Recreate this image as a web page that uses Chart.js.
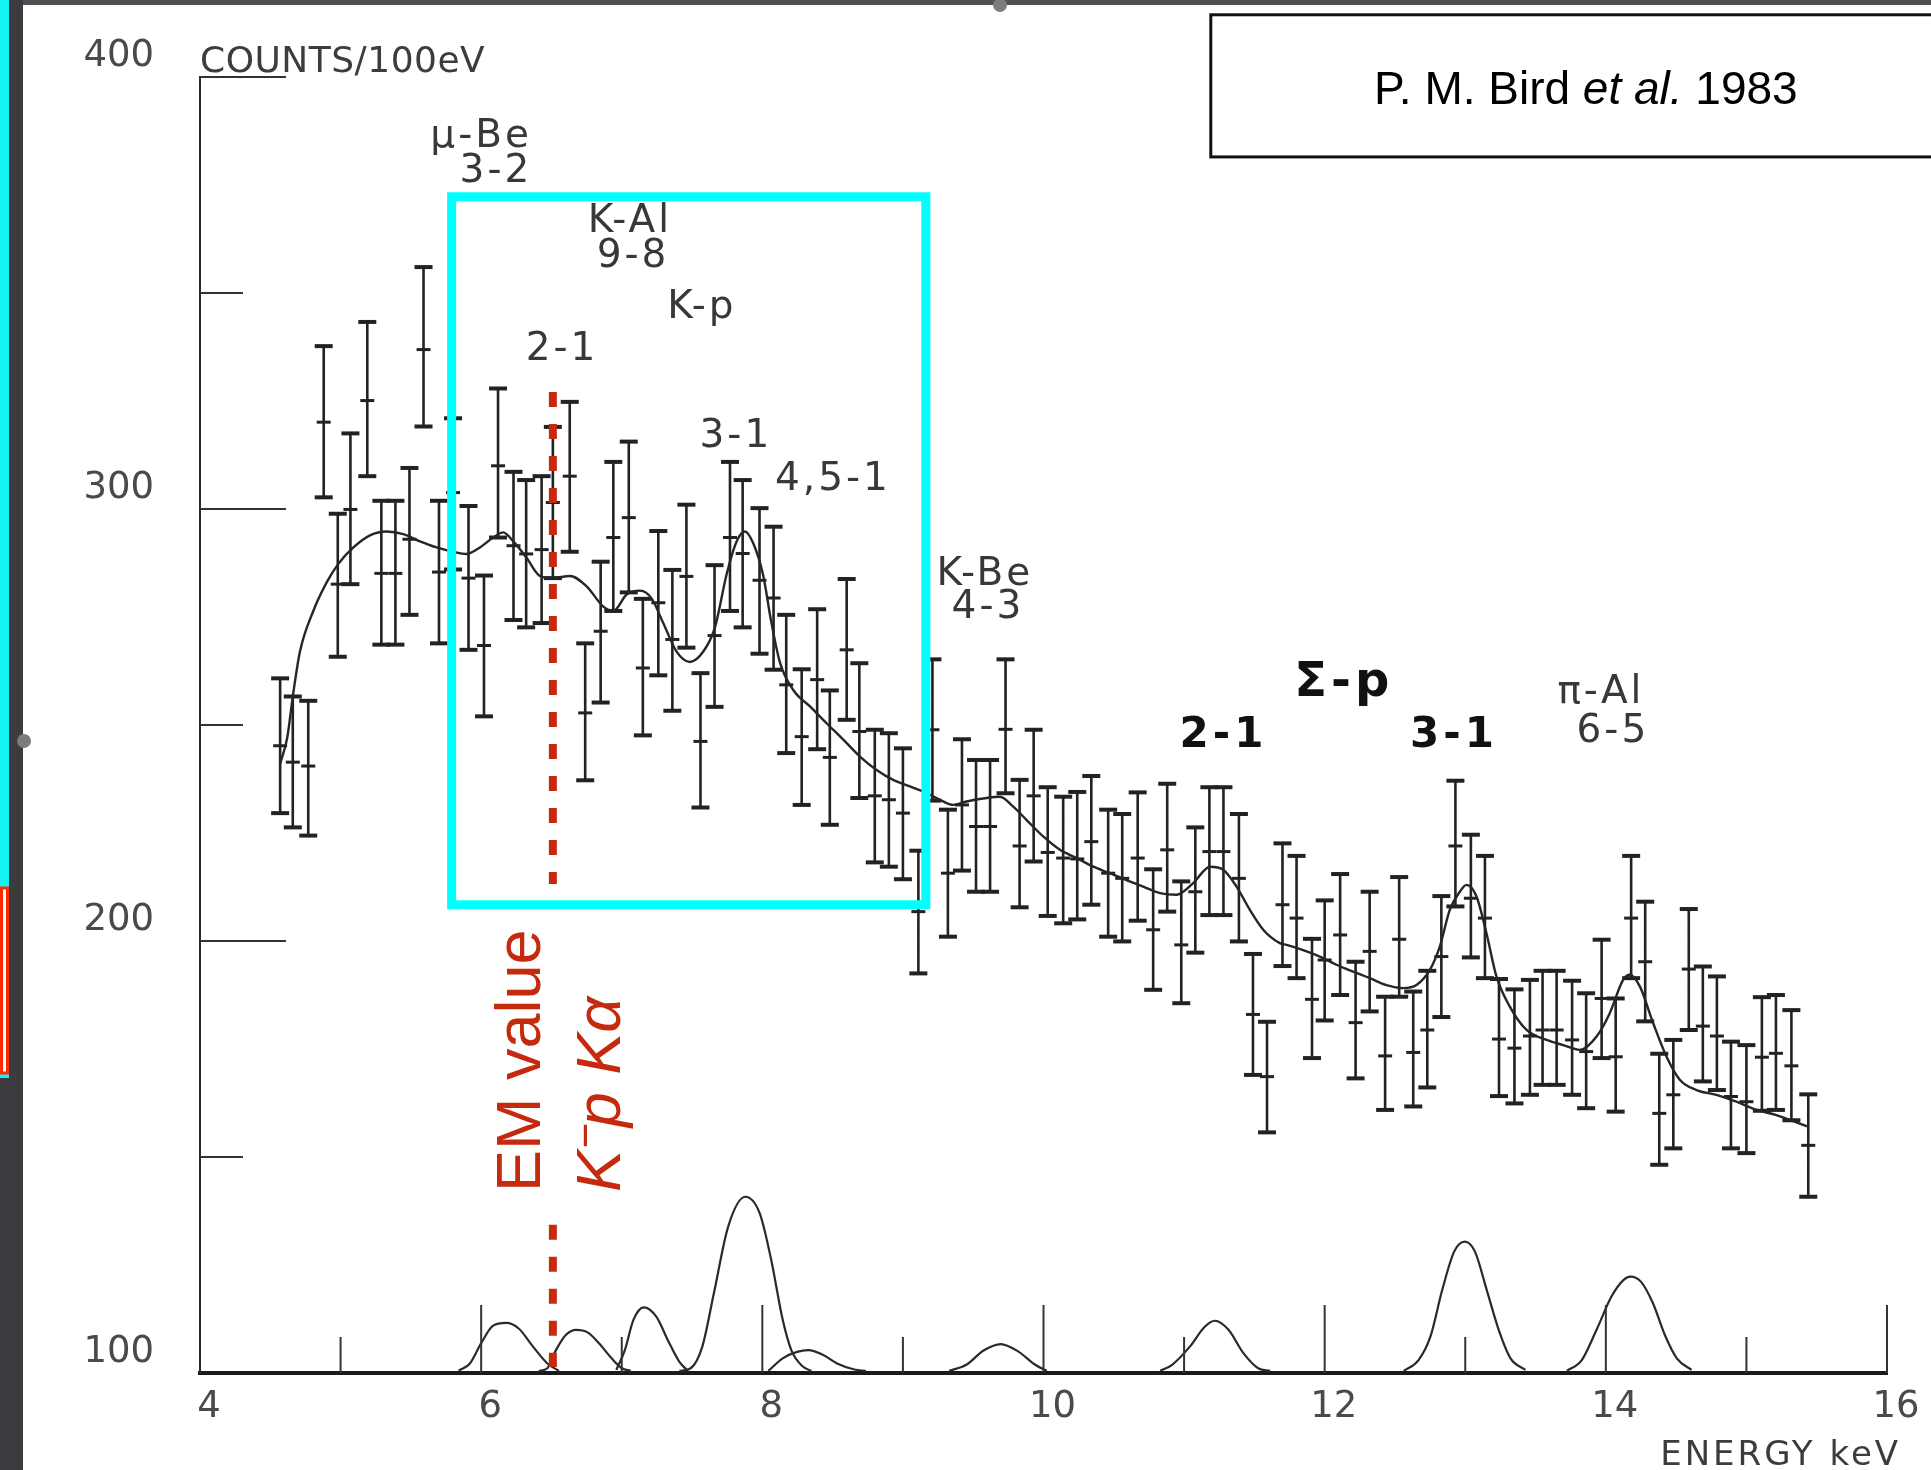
<!DOCTYPE html>
<html>
<head>
<meta charset="utf-8">
<script src="https://cdn.jsdelivr.net/npm/chart.js@4.4.1/dist/chart.umd.min.js"></script>
<style>
html, body { margin: 0; padding: 0; background: #fff; }
#spectrum { display: block; }
</style>
</head>
<body>
<canvas id="spectrum" width="1931" height="1470"></canvas>
<script>
// K-p X-ray spectrum (Bird et al. 1983)
// bin centres (keV), counts per 100 eV and the ends of each error bar
const energy = [4.57, 4.66, 4.77, 4.88, 4.98, 5.07, 5.19, 5.29, 5.39, 5.49,
    5.59, 5.70, 5.80, 5.91, 6.02, 6.12, 6.23, 6.32, 6.43, 6.51,
    6.63, 6.74, 6.85, 6.94, 7.05, 7.15, 7.26, 7.36, 7.46, 7.56,
    7.66, 7.77, 7.86, 7.98, 8.08, 8.17, 8.28, 8.39, 8.48, 8.60,
    8.69, 8.80, 8.90, 9.00, 9.11, 9.21, 9.32, 9.42, 9.52, 9.62,
    9.73, 9.83, 9.93, 10.03, 10.14, 10.24, 10.34, 10.46, 10.56, 10.67,
    10.78, 10.88, 10.98, 11.08, 11.18, 11.28, 11.39, 11.49, 11.59, 11.70,
    11.80, 11.91, 12.00, 12.11, 12.22, 12.32, 12.43, 12.53, 12.63, 12.73,
    12.83, 12.93, 13.04, 13.14, 13.24, 13.35, 13.46, 13.55, 13.65, 13.76,
    13.86, 13.97, 14.07, 14.18, 14.28, 14.38, 14.48, 14.59, 14.69, 14.79,
    14.89, 15.00, 15.11, 15.21, 15.32, 15.44];
const counts = [245.2, 241.4, 240.5, 320.1, 282.6, 299.9, 325.1, 285.1, 285.1, 293.0,
    336.9, 285.4, 303.8, 284.0, 268.4, 310.0, 291.5, 289.6, 290.6, 301.5,
    307.6, 252.8, 271.7, 293.4, 298.0, 263.2, 278.3, 269.8, 284.4, 246.2,
    270.7, 293.4, 289.7, 283.5, 279.4, 259.3, 247.3, 260.5, 242.5, 267.4,
    248.5, 233.6, 232.7, 229.6, 206.8, 248.9, 215.7, 231.5, 226.5, 226.5,
    249.0, 222.0, 233.6, 220.5, 219.2, 219.0, 223.0, 215.7, 214.5, 219.2,
    202.6, 221.1, 199.1, 211.4, 220.7, 220.7, 214.5, 183.0, 168.6, 208.4,
    205.3, 186.5, 195.6, 201.4, 181.1, 197.6, 173.4, 200.4, 174.2, 179.4,
    196.4, 222.0, 209.9, 205.3, 177.3, 175.2, 178.0, 179.4, 179.4, 177.1,
    174.4, 186.7, 173.2, 205.3, 195.2, 160.1, 164.4, 193.5, 180.3, 178.0,
    164.0, 162.8, 173.1, 174.0, 171.1, 152.7];
const errHigh = [260.8, 256.6, 255.6, 337.7, 298.9, 317.5, 343.3, 301.9, 301.9, 309.5,
    356.0, 301.9, 321.0, 300.7, 284.6, 327.9, 308.6, 306.7, 307.6, 319.0,
    324.8, 268.9, 287.8, 310.9, 315.6, 279.2, 294.9, 285.9, 301.0, 262.0,
    287.0, 310.9, 306.7, 300.2, 295.9, 275.5, 262.9, 276.8, 258.0, 283.8,
    264.3, 248.9, 248.1, 244.6, 220.9, 265.2, 230.4, 246.7, 241.9, 241.9,
    265.2, 237.3, 248.9, 235.6, 233.4, 234.5, 238.2, 230.4, 229.4, 234.4,
    216.6, 236.4, 213.8, 226.3, 235.6, 235.6, 229.4, 197.0, 181.3, 222.6,
    219.7, 200.5, 209.4, 215.5, 195.2, 211.4, 187.1, 214.8, 188.3, 193.1,
    210.4, 237.1, 224.6, 219.7, 191.2, 188.8, 191.0, 193.1, 193.1, 190.8,
    187.9, 200.3, 186.7, 219.7, 209.1, 173.9, 177.1, 207.4, 194.1, 191.8,
    176.7, 175.9, 187.0, 187.5, 184.0, 164.5];
const errLow = [229.6, 226.3, 224.4, 302.7, 265.8, 282.6, 307.6, 268.6, 268.6, 275.5,
    319.1, 268.9, 286.0, 267.4, 252.0, 293.4, 274.3, 272.6, 273.6, 284.0,
    290.1, 237.2, 255.2, 276.4, 280.7, 247.6, 261.5, 253.3, 267.9, 230.9,
    254.2, 276.4, 272.6, 266.5, 262.8, 243.5, 231.5, 244.4, 226.9, 251.2,
    233.1, 218.2, 217.2, 214.3, 192.5, 232.5, 201.0, 216.3, 211.4, 211.4,
    234.2, 207.8, 218.4, 205.8, 204.1, 205.0, 208.4, 201.0, 199.9, 204.7,
    188.7, 206.8, 185.6, 197.3, 206.0, 206.0, 199.9, 169.0, 155.7, 194.2,
    191.4, 172.9, 181.6, 187.5, 168.2, 183.7, 160.9, 187.1, 161.7, 166.1,
    182.4, 208.0, 196.2, 191.4, 164.1, 162.4, 164.4, 166.7, 166.7, 164.4,
    161.3, 172.9, 160.5, 191.4, 181.4, 148.2, 152.0, 179.4, 167.5, 165.5,
    152.0, 150.9, 160.7, 160.9, 158.5, 140.8];

// fitted total spectrum
const fitE = [4.57, 4.62, 4.664, 4.711, 4.806, 4.901, 4.984, 5.091, 5.209, 5.328,
    5.446, 5.565, 5.683, 5.802, 5.897, 5.991, 6.086, 6.157, 6.229, 6.323,
    6.418, 6.513, 6.631, 6.750, 6.869, 6.94, 7.035, 7.13, 7.212, 7.295,
    7.39, 7.485, 7.58, 7.663, 7.746, 7.817, 7.876, 7.936, 8.007, 8.06,
    8.125, 8.22, 8.339, 8.457, 8.576, 8.694, 8.813, 8.931, 9.05, 9.145,
    9.263, 9.358, 9.453, 9.595, 9.69, 9.785, 9.88, 9.998, 10.117, 10.235,
    10.354, 10.472, 10.591, 10.709, 10.828, 10.946, 11.065, 11.184, 11.278, 11.373,
    11.468, 11.563, 11.681, 11.729, 11.847, 11.966, 12.084, 12.203, 12.321, 12.44,
    12.558, 12.653, 12.748, 12.819, 12.89, 12.961, 13.009, 13.08, 13.151, 13.222,
    13.317, 13.436, 13.578, 13.697, 13.815, 13.934, 14.028, 14.123, 14.17, 14.242,
    14.337, 14.432, 14.526, 14.645, 14.787, 14.929, 15.072, 15.214, 15.309, 15.43];
const fitC = [241, 247, 257.5, 267.0, 276.4, 283.0, 287.3, 291.1, 293.9, 294.8,
    294.2, 292.5, 291.1, 290.1, 289.6, 291.1, 293.4, 294.6, 292.5, 288.7,
    284.5, 284.0, 284.5, 282.1, 277.4, 276.4, 280.2, 281.1, 279.3, 273.6,
    267.0, 264.6, 267.0, 272.6, 284.9, 292.5, 294.8, 292.0, 284.5, 274.5,
    264.5, 258.1, 254.3, 250.4, 246.6, 242.7, 239.6, 237.3, 235.8, 234.6,
    232.7, 231.5, 232.3, 233.1, 233.4, 231.1, 228.0, 224.2, 221.1, 219.2,
    217.2, 215.7, 214.1, 212.6, 211.1, 210.7, 213.4, 217.2, 216.5, 212.6,
    207.2, 202.6, 199.5, 199.1, 197.9, 196.4, 194.5, 192.9, 191.4, 189.8,
    189.1, 189.8, 193.3, 198.7, 207.2, 211.4, 213.0, 210.3, 201.8, 191.8,
    184.8, 179.4, 177.1, 175.9, 174.8, 177.9, 183.3, 191.0, 192.2, 189.5,
    180.95, 173.2, 167.9, 165.5, 164.4, 162.8, 160.9, 159.7, 158.6, 157.1];

// single line components drawn on the baseline, [keV, counts]
const peak62 = [[5.84, 100.5], [5.92, 102.2], [6.0, 106.9], [6.083, 110.9], [6.177, 111.6],
    [6.267, 110.3], [6.369, 106.1], [6.471, 102.2], [6.553, 100.5]];
const peak67 = [[6.41, 100.5], [6.471, 101.1], [6.532, 105.3], [6.602, 108.8], [6.675, 110.0],
    [6.757, 109.4], [6.838, 106.9], [6.928, 103.4], [7.001, 101.1], [7.063, 100.5]];
const peak72 = [[6.961, 100.7], [7.022, 105.3], [7.083, 112.3], [7.157, 115.2], [7.247, 113.0],
    [7.328, 107.6], [7.41, 102.6], [7.471, 100.5]];
const peak79 = [[7.41, 100.5], [7.491, 101.1], [7.573, 106.1], [7.655, 118.4], [7.757, 133.9],
    [7.879, 140.8], [7.981, 137.0], [8.063, 126.2], [8.145, 112.3], [8.206, 105.3],
    [8.288, 101.5], [8.349, 100.5]];
const peak83 = [[8.043, 100.5], [8.145, 103.4], [8.247, 104.9], [8.329, 105.3], [8.43, 104.2],
    [8.532, 102.2], [8.655, 100.8], [8.737, 100.5]];
const peak97 = [[9.329, 100.5], [9.451, 101.9], [9.574, 105.2], [9.696, 106.7], [9.819, 105.0],
    [9.941, 101.9], [10.023, 100.5]];
const peak112 = [[10.83, 100.5], [10.915, 101.9], [11.041, 106.1], [11.147, 110.7], [11.219, 112.1],
    [11.316, 110.0], [11.422, 104.6], [11.527, 101.1], [11.612, 100.5]];
const peak130 = [[12.562, 100.5], [12.668, 103.0], [12.752, 108.4], [12.836, 119.2], [12.921, 128.1],
    [12.997, 130.4], [13.069, 128.1], [13.153, 119.2], [13.238, 110.0], [13.322, 103.4], [13.428, 100.7]];
const peak142 = [[13.723, 100.5], [13.829, 103.0], [13.934, 110.0], [14.04, 117.7], [14.125, 121.5],
    [14.175, 122.3], [14.251, 121.1], [14.336, 116.1], [14.42, 108.8], [14.505, 103.4], [14.61, 100.7]];

// axis ticks (labels at 100..400 and 4..16)
const xMajorTicks = [6, 8, 10, 12, 14, 16];
const xMinorTicks = [5, 7, 9, 11, 13, 15];
const yMajorTicks = [200, 300, 400];
const yMinorTicks = [150, 250, 350];

// transition labels of the scan, anchored at [keV, counts] (baseline, centre)
const labelText = ['μ-Be', '3-2', 'K-Al', '9-8', 'K-p', '2-1', '3-1', '4,5-1', 'K-Be', '4-3',
    '2-1', 'Σ-p', '3-1', 'π-Al', '6-5'];
const labelE = [6.0, 6.105, 7.058, 7.08, 7.57, 6.575, 7.812, 8.502, 9.583, 9.605,
    11.28, 12.136, 12.92, 13.965, 14.05];
const labelC = [383.9, 375.8, 364.2, 356.1, 344.3, 334.5, 314.4, 304.4, 282.4, 274.8,
    244.9, 256.6, 244.9, 255.1, 246.1];
const labelBold = [0, 0, 0, 0, 0, 0, 0, 0, 0, 0, 1, 1, 1, 0, 0];

// overlays added on the slide
const emLineE = 6.51;                       // EM value of the K-p K alpha line
const emLineSpans = [[327.1, 213.2], [134.3, 101.4]];
const boxE = [5.79, 9.163];                 // highlighted region
const boxC = [208.4, 372.3];

const ink = '#222222';
const red = '#c62a0e';

const errorStems = [];
energy.forEach((e, i) => {
    errorStems.push({ x: e, y: errLow[i] }, { x: e, y: errHigh[i] }, { x: e, y: null });
});
const caps = [];
energy.forEach((e, i) => {
    caps.push({ x: e, y: errLow[i] }, { x: e, y: errHigh[i] });
});

const lineOf = (pts) => pts.map(p => ({ x: p[0], y: p[1] }));

const emData = [];
emLineSpans.forEach(s => {
    emData.push({ x: emLineE, y: s[0] }, { x: emLineE, y: s[1] }, { x: emLineE, y: null });
});

const boxData = [
    { x: boxE[0], y: boxC[1] }, { x: boxE[1], y: boxC[1] },
    { x: boxE[1], y: boxC[0] }, { x: boxE[0], y: boxC[0] },
    { x: boxE[0], y: boxC[1] }, { x: boxE[1], y: boxC[1] }
];

const componentSets = [peak62, peak67, peak72, peak79, peak83, peak97, peak112, peak130, peak142]
    .map(p => ({
        data: lineOf(p),
        borderColor: '#2a2a2a',
        borderWidth: 2.2,
        pointRadius: 0,
        cubicInterpolationMode: 'monotone',
        order: 6
    }));

const scanDecor = {
    id: 'scanDecor',
    beforeDraw(chart) {
        const { ctx, width, height } = chart;
        ctx.save();
        ctx.fillStyle = '#ffffff';
        ctx.fillRect(0, 0, width, height);
        ctx.restore();
    },
    afterDraw(chart) {
        const { ctx, width, scales: { x, y }, chartArea } = chart;
        ctx.save();

        // ticks pointing into the plot, as on the original figure
        ctx.strokeStyle = '#333';
        ctx.lineWidth = 2;
        const tickX = (list, len) => list.forEach(v => {
            const px = x.getPixelForValue(v);
            ctx.beginPath();
            ctx.moveTo(px, chartArea.bottom);
            ctx.lineTo(px, chartArea.bottom - len);
            ctx.stroke();
        });
        const tickY = (list, len) => list.forEach(v => {
            const py = y.getPixelForValue(v);
            ctx.beginPath();
            ctx.moveTo(chartArea.left, py);
            ctx.lineTo(chartArea.left + len, py);
            ctx.stroke();
        });
        tickX(xMajorTicks, 68);
        tickX(xMinorTicks, 36);
        tickY(yMajorTicks, 86);
        tickY(yMinorTicks, 43);

        // axis titles
        ctx.fillStyle = '#3c3c3c';
        ctx.font = '36px "DejaVu Sans"';
        ctx.letterSpacing = '0.5px';
        ctx.textAlign = 'left';
        ctx.textBaseline = 'alphabetic';
        ctx.fillText('COUNTS/100eV', x.getPixelForValue(4.0), y.getPixelForValue(401.2));
        ctx.font = '34px "DejaVu Sans"';
        ctx.letterSpacing = '3px';
        ctx.textAlign = 'right';
        ctx.fillText('ENERGY keV', x.getPixelForValue(16.1), y.getPixelForValue(78.7));

        // transition labels
        ctx.textAlign = 'center';
        labelText.forEach((t, i) => {
            if (labelBold[i]) {
                ctx.fillStyle = '#111';
                ctx.letterSpacing = '4px';
                ctx.font = (t === 'Σ-p' ? 'bold 48px' : 'bold 42px') + ' "DejaVu Sans"';
            } else {
                ctx.fillStyle = '#383838';
                ctx.letterSpacing = '3px';
                ctx.font = '39px "DejaVu Sans"';
            }
            ctx.fillText(t, x.getPixelForValue(labelE[i]), y.getPixelForValue(labelC[i]));
        });
        ctx.letterSpacing = '0px';

        // red vertical labels next to the EM line
        ctx.fillStyle = red;
        ctx.textAlign = 'left';
        ctx.save();
        ctx.translate(x.getPixelForValue(6.418), y.getPixelForValue(141.9));
        ctx.rotate(-Math.PI / 2);
        ctx.font = '63px "Liberation Sans"';
        ctx.fillText('EM value', 0, 0);
        ctx.restore();
        ctx.save();
        ctx.translate(x.getPixelForValue(6.987), y.getPixelForValue(141.9));
        ctx.rotate(-Math.PI / 2);
        ctx.font = 'italic 63px "Liberation Sans"';
        let cx = 0;
        ctx.fillText('K', cx, 0);
        cx += ctx.measureText('K').width + 1;
        ctx.font = 'italic 44px "Liberation Sans"';
        ctx.fillText('−', cx, -20);
        cx += ctx.measureText('−').width - 4;
        ctx.font = 'italic 63px "Liberation Sans"';
        ctx.fillText('p Kα', cx, 0);
        ctx.restore();

        // reference box
        const bx = x.getPixelForValue(11.19);
        const by0 = y.getPixelForValue(414.4);
        const by1 = y.getPixelForValue(381.5);
        ctx.fillStyle = '#fff';
        ctx.fillRect(bx, by0, width - bx + 20, by1 - by0);
        ctx.strokeStyle = '#111';
        ctx.lineWidth = 3;
        ctx.strokeRect(bx, by0, width - bx + 20, by1 - by0);
        const parts = [['P. M. Bird ', ''], ['et al.', 'italic '], [' 1983', '']];
        let total = 0;
        parts.forEach(p => { ctx.font = p[1] + '46px "Liberation Sans"'; total += ctx.measureText(p[0]).width; });
        let tx = x.getPixelForValue(13.858) - total / 2;
        const ty = y.getPixelForValue(393.7);
        ctx.fillStyle = '#000';
        ctx.textAlign = 'left';
        parts.forEach(p => {
            ctx.font = p[1] + '46px "Liberation Sans"';
            ctx.fillText(p[0], tx, ty);
            tx += ctx.measureText(p[0]).width;
        });

        // edges of the slide window around the scan
        ctx.fillStyle = '#505052';
        ctx.fillRect(0, 0, width, 5);
        ctx.fillStyle = '#3c3c40';
        ctx.fillRect(0, 0, 23, chart.height);
        ctx.fillStyle = '#12f4f4';
        ctx.fillRect(0, 0, 9, 1078);
        ctx.fillStyle = '#fff';
        ctx.fillRect(0, 888, 9, 185);
        ctx.strokeStyle = '#ff2a00';
        ctx.lineWidth = 3;
        ctx.strokeRect(1.5, 888, 6, 185);
        ctx.fillStyle = '#7c7c7c';
        ctx.beginPath(); ctx.arc(24, 741, 7, 0, Math.PI * 2); ctx.fill();
        ctx.beginPath(); ctx.arc(1000, 5, 7, 0, Math.PI * 2); ctx.fill();
        ctx.restore();
    }
};

new Chart(document.getElementById('spectrum').getContext('2d'), {
    type: 'line',
    data: {
        datasets: [
            {
                label: 'highlight',
                data: boxData,
                borderColor: '#00ffff',
                borderWidth: 9,
                borderJoinStyle: 'miter',
                pointRadius: 0,
                tension: 0,
                order: 0
            },
            {
                label: 'EM value',
                data: emData,
                borderColor: red,
                borderWidth: 8,
                borderDash: [15, 17],
                pointRadius: 0,
                spanGaps: false,
                order: 1
            },
            {
                label: 'fit',
                data: fitE.map((e, i) => ({ x: e, y: fitC[i] })),
                borderColor: '#262626',
                borderWidth: 2.4,
                pointRadius: 0,
                cubicInterpolationMode: 'monotone',
                order: 2
            },
            {
                label: 'error bars',
                data: errorStems,
                borderColor: ink,
                borderWidth: 2.6,
                pointRadius: 0,
                spanGaps: false,
                order: 3
            },
            {
                label: 'caps',
                data: caps,
                showLine: false,
                pointStyle: 'line',
                pointRadius: 9,
                pointBorderWidth: 4,
                pointBorderColor: ink,
                order: 3
            },
            {
                label: 'counts',
                data: energy.map((e, i) => ({ x: e, y: counts[i] })),
                showLine: false,
                pointStyle: 'line',
                pointRadius: 7,
                pointBorderWidth: 3,
                pointBorderColor: ink,
                order: 3
            },
            ...componentSets
        ]
    },
    options: {
        responsive: false,
        animation: false,
        events: [],
        layout: { padding: { left: 60, right: 44, top: 77, bottom: 0 } },
        plugins: {
            legend: { display: false },
            tooltip: { enabled: false }
        },
        scales: {
            x: {
                type: 'linear',
                min: 4,
                max: 16,
                grid: { display: false },
                border: { display: true, color: '#1a1a1a', width: 4 },
                ticks: {
                    stepSize: 2,
                    padding: 4,
                    labelOffset: 9,
                    maxRotation: 0,
                    color: '#4a4a4a',
                    font: { family: 'DejaVu Sans', size: 37 }
                },
                afterFit(scale) {
                    scale.height = 97;
                    scale.paddingLeft = 0;
                    scale.paddingRight = 0;
                }
            },
            y: {
                type: 'linear',
                min: 100,
                max: 400,
                grid: { display: false },
                border: { display: true, color: '#2a2a2a', width: 2 },
                ticks: {
                    stepSize: 100,
                    padding: 38,
                    labelOffset: -21,
                    color: '#4a4a4a',
                    font: { family: 'DejaVu Sans', size: 37 }
                },
                afterFit(scale) {
                    scale.width = 140;
                    scale.paddingTop = 0;
                    scale.paddingBottom = 0;
                }
            }
        }
    },
    plugins: [scanDecor]
});
</script>
</body>
</html>
